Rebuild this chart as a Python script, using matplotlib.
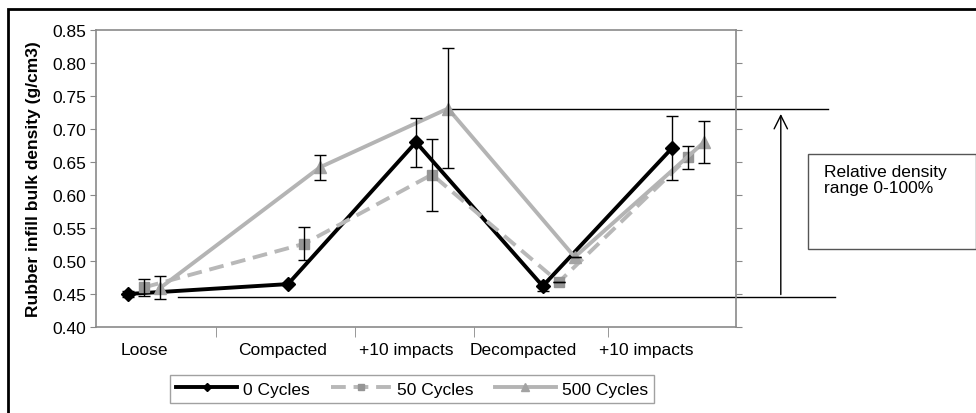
import numpy as np
import matplotlib
matplotlib.use('Agg')
import matplotlib.pyplot as plt
from matplotlib.patches import Rectangle
from matplotlib.lines import Line2D

plt.rcParams['font.family'] = ['Liberation Sans', 'DejaVu Sans']
FS = 12.5

# categories and where their labels / separators sit on the x axis (0..5 scale)
categories = ['Loose', 'Compacted', '+10 impacts', 'Decompacted', '+10 impacts']
label_pos = [0.38, 1.46, 2.42, 3.34, 4.30]
sep_pos = [0.94, 2.02, 2.95, 4.0]
base_x = np.array([0.25, 1.5, 2.5, 3.49, 4.5])

# density values (g/cm3)
cycles_0 = [0.450, 0.465, 0.680, 0.462, 0.671]
err_0_lo = [0.005, 0.0, 0.038, 0.008, 0.049]
err_0_hi = [0.004, 0.0, 0.037, 0.008, 0.048]

cycles_50 = [0.460, 0.526, 0.631, 0.468, 0.657]
err_50_lo = [0.013, 0.025, 0.055, 0.0, 0.018]
err_50_hi = [0.012, 0.026, 0.054, 0.0, 0.017]

cycles_500 = [0.459, 0.642, 0.731, 0.506, 0.680]
err_500_lo = [0.017, 0.019, 0.090, 0.0, 0.031]
err_500_hi = [0.019, 0.019, 0.092, 0.0, 0.032]

ref_top = 0.73
ref_bottom = 0.445

fig = plt.figure(figsize=(9.76, 4.14), dpi=100)
ax = fig.add_axes([96 / 976, 1 - 328 / 414, 640 / 976, 297 / 414])

series = [
    ('0 Cycles', cycles_0, err_0_lo, err_0_hi, 0.0,
     dict(color='black', lw=2.8, ls='-', marker='D', ms=7, mfc='black', mec='black')),
    ('50 Cycles', cycles_50, err_50_lo, err_50_hi, 0.125,
     dict(color='#b8b8b8', lw=2.8, ls=(0, (3.8, 2)), marker='s', ms=7, mfc='#959595', mec='#959595')),
    ('500 Cycles', cycles_500, err_500_lo, err_500_hi, 0.25,
     dict(color='#b4b4b4', lw=2.8, ls='-', marker='^', ms=9, mfc='#a3a3a3', mec='#a3a3a3')),
]

handles = []
for i, (name, vals, lo, hi, off, style) in enumerate(series):
    x = base_x + off
    ax.plot(x, vals, zorder=3 + i, **style)
    ax.errorbar(x, vals, yerr=[lo, hi], fmt='none', ecolor='black', elinewidth=1,
                capsize=4, capthick=1, zorder=6)
    leg_style = dict(style)
    leg_style['ms'] = style['ms'] * 0.6
    handles.append(Line2D([], [], label=name, **leg_style))

# relative density range markers
ax.plot([2.74, 5.72], [ref_top, ref_top], color='black', lw=1, clip_on=False, zorder=2)
ax.plot([0.64, 5.77], [ref_bottom, ref_bottom], color='black', lw=1, clip_on=False, zorder=2)
ax.annotate('', xy=(5.35, ref_top - 0.003), xytext=(5.35, ref_bottom),
            arrowprops=dict(arrowstyle='->', color='black', lw=1, mutation_scale=24),
            annotation_clip=False)

ax.set_xlim(0, 5)
ax.set_ylim(0.40, 0.85)
ax.set_yticks(np.arange(0.40, 0.851, 0.05))
ax.set_yticklabels(['%.2f' % v for v in np.arange(0.40, 0.851, 0.05)], fontsize=FS)
ax.tick_params(axis='y', which='both', direction='out', length=4, color='#888888',
               left=True, right=True, pad=3)

ax.set_xticks(label_pos)
ax.set_xticklabels(categories, fontsize=FS)
ax.set_xticks(sep_pos, minor=True)
ax.tick_params(axis='x', which='major', length=0, pad=11)
ax.tick_params(axis='x', which='minor', length=7, color='#888888', direction='out')

for s in ax.spines.values():
    s.set_color('#8a8a8a')
    s.set_linewidth(1.2)

ax.set_ylabel('Rubber infill bulk density (g/cm3)', fontsize=FS, fontweight='bold')
ax.yaxis.set_label_coords(-0.086, 0.5)

fig.legend(handles=handles, loc='center', ncol=3, fontsize=FS,
           bbox_to_anchor=(412 / 976, 1 - 390 / 414), frameon=True, fancybox=False,
           edgecolor='#8a8a8a', handlelength=3.5, columnspacing=1.2, handletextpad=0.35,
           borderpad=0.38)

# text box on the right
fig.patches.append(Rectangle((808 / 976, 1 - 250 / 414), 168 / 976, 95 / 414,
                             transform=fig.transFigure, fill=False, edgecolor='#555555',
                             lw=1))
fig.text(824 / 976, 1 - 165 / 414, 'Relative density\nrange 0-100%', fontsize=FS,
         va='top', ha='left', linespacing=1.1)

# outer frame
fig.patches.append(Rectangle((8 / 976, -0.1), 1.1, 1.1 - 10 / 414,
                             transform=fig.transFigure, fill=False, edgecolor='black',
                             lw=2))

fig.savefig('out.png', dpi=100)
